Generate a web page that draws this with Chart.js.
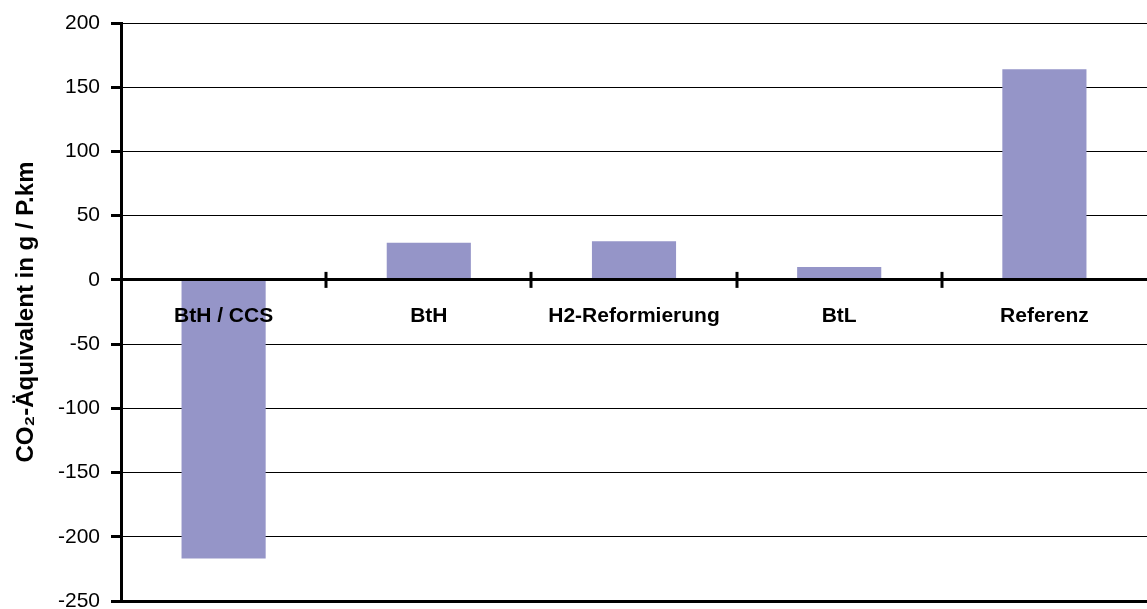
<!DOCTYPE html>
<html>
<head>
<meta charset="utf-8">
<script src="https://cdn.jsdelivr.net/npm/chart.js@4.4.0/dist/chart.umd.min.js"></script>
<style>
html,body{margin:0;padding:0;background:#fff;}
#wrap{width:1147px;height:609px;}
</style>
</head>
<body>
<div id="wrap"><canvas id="c" width="1147" height="609"></canvas></div>
<script>
const categories = ["BtH / CCS", "BtH", "H2-Reformierung", "BtL", "Referenz"];
const co2Values = [-217, 29, 30, 10, 164];
const yTickMin = -250;
const yTickMax = 200;
const yTickStep = 50;
const yTitle = "CO\u2082-\u00C4quivalent in g / P.km";

const FONT = "'Liberation Sans', Arial, sans-serif";

const categoryTicks = {
  id: 'categoryTicks',
  afterDraw(chart) {
    const xs = chart.scales.x, ys = chart.scales.y;
    const y0 = ys.getPixelForValue(0);
    const ctx = chart.ctx;
    ctx.save();
    ctx.strokeStyle = '#000';
    ctx.lineWidth = 3;
    for (let i = 1; i < categories.length; i++) {
      const x = Math.round((xs.getPixelForValue(i - 1) + xs.getPixelForValue(i)) / 2);
      ctx.beginPath();
      ctx.moveTo(x, y0 - 8);
      ctx.lineTo(x, y0 + 8);
      ctx.stroke();
    }
    ctx.restore();
  }
};

new Chart(document.getElementById('c'), {
  type: 'bar',
  data: {
    labels: categories,
    datasets: [{
      data: co2Values,
      backgroundColor: '#9595C8',
      borderWidth: 0,
      categoryPercentage: 1.0,
      barPercentage: 0.41
    }]
  },
  options: {
    responsive: false,
    animation: false,
    layout: { padding: { top: 23, bottom: 8, left: 0, right: 0 } },
    plugins: { legend: { display: false }, tooltip: { enabled: false } },
    scales: {
      x: {
        position: { y: 0 },
        offset: true,
        grid: { display: false, drawTicks: false },
        border: { display: true, color: '#000', width: 3, z: 1 },
        ticks: {
          z: 1,
          color: '#000',
          font: { family: FONT, size: 21, weight: 'bold' },
          padding: 24,
          maxRotation: 0,
          autoSkip: false
        },
        afterFit(s) { s.height = 0; }
      },
      y: {
        min: yTickMin,
        max: yTickMax,
        ticks: {
          stepSize: yTickStep,
          color: '#000',
          font: { family: FONT, size: 21 },
          padding: 11
        },
        grid: {
          color: '#000',
          lineWidth: (c) => (c.tick && c.tick.value === yTickMin) ? 3 : 1,
          tickLength: 10,
          tickWidth: 3,
          tickColor: '#000'
        },
        border: { display: true, color: '#000', width: 3 },
        title: {
          display: true,
          text: yTitle,
          color: '#000',
          font: { family: FONT, size: 24, weight: 'bold' },
          padding: { top: 12, bottom: 4 }
        },
        afterFit(s) { s.width = 121; s.paddingTop = 0; s.paddingBottom = 0; }
      }
    }
  },
  plugins: [categoryTicks]
});
</script>
</body>
</html>
